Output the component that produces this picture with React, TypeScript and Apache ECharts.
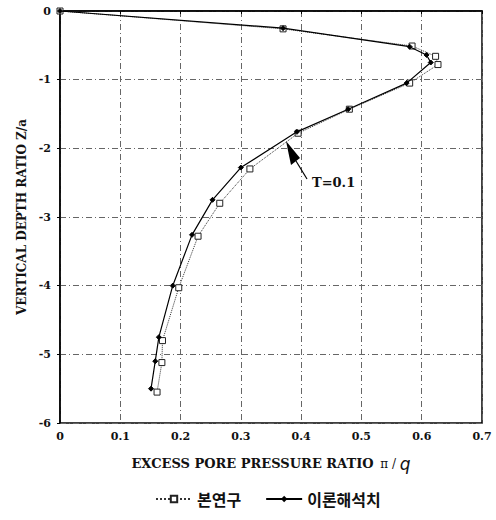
import React, { useEffect, useRef } from "react";
import * as echarts from "echarts";

// 이론해석치 (theoretical solution): [pore pressure ratio, depth ratio]
const theoryX = [0, 0.37, 0.58, 0.608, 0.615, 0.575, 0.478, 0.393, 0.30, 0.253, 0.219, 0.187, 0.164, 0.158, 0.151];
const theoryZ = [0, -0.25, -0.52, -0.64, -0.75, -1.05, -1.43, -1.76, -2.28, -2.75, -3.26, -4.0, -4.75, -5.1, -5.5];

// 본연구 (this study)
const studyX = [0, 0.37, 0.584, 0.623, 0.627, 0.58, 0.48, 0.395, 0.315, 0.265, 0.229, 0.197, 0.17, 0.169, 0.161];
const studyZ = [0, -0.26, -0.51, -0.66, -0.78, -1.05, -1.43, -1.78, -2.3, -2.8, -3.28, -4.03, -4.8, -5.12, -5.55];

const seriesNames = ["본연구", "이론해석치"];
const xTicks = { min: 0, max: 0.7, interval: 0.1 };
const yTicks = { min: -6, max: 0, interval: 1 };

const serif = "'DejaVu Serif', 'Liberation Serif', serif";

export default function App() {
  const ref = useRef<HTMLDivElement>(null);
  useEffect(() => {
    if (!ref.current) return;
    const chart = echarts.init(ref.current, undefined, { renderer: "svg" });
    const study = studyX.map((x, i) => [x, studyZ[i]]);
    const theory = theoryX.map((x, i) => [x, theoryZ[i]]);
    const gridLine = { show: true, lineStyle: { color: "#666", type: [6, 3, 1, 3], width: 1 } };
    chart.setOption({
      animation: false,
      backgroundColor: "#fff",
      grid: { left: 60, right: 14, top: 11, bottom: 97, show: true, borderColor: "#000", borderWidth: 1.5 },
      xAxis: {
        type: "value",
        min: xTicks.min,
        max: xTicks.max,
        interval: xTicks.interval,
        axisLine: { show: true, lineStyle: { color: "#000", width: 1.5 } },
        axisTick: { show: true, length: 3, lineStyle: { color: "#000" } },
        splitLine: gridLine,
        axisLabel: {
          color: "#111",
          fontFamily: serif,
          fontWeight: "bold",
          fontSize: 11,
          margin: 8,
          formatter: (v: number) => (v === 0 ? "0" : v.toFixed(1)),
        },
        name: "{a|EXCESS PORE PRESSURE RATIO}  {b|π / }{c|q}",
        nameLocation: "middle",
        nameGap: 32,
        nameTextStyle: {
          rich: {
            a: { fontFamily: serif, fontWeight: "bold", fontSize: 13, color: "#111" },
            b: { fontFamily: serif, fontSize: 12, color: "#111" },
            c: { fontFamily: "'DejaVu Sans', sans-serif", fontStyle: "italic", fontSize: 17, color: "#111" },
          },
        },
      },
      yAxis: {
        type: "value",
        min: yTicks.min,
        max: yTicks.max,
        interval: yTicks.interval,
        axisLine: { show: true, lineStyle: { color: "#000", width: 1.5 } },
        axisTick: { show: true, length: 3, lineStyle: { color: "#000" } },
        splitLine: gridLine,
        axisLabel: {
          color: "#111",
          fontFamily: serif,
          fontWeight: "bold",
          fontSize: 11,
          margin: 9,
        },
        name: "VERTICAL DEPTH RATIO Z/a",
        nameLocation: "middle",
        nameRotate: 90,
        nameGap: 32,
        nameTextStyle: { fontFamily: serif, fontWeight: "bold", fontSize: 12, color: "#111" },
      },
      legend: {
        bottom: 8,
        left: 150,
        itemWidth: 36,
        itemHeight: 8,
        itemGap: 24,
        textStyle: { fontFamily: "'Noto Sans CJK KR', sans-serif", fontWeight: "bold", fontSize: 16, color: "#111" },
        data: seriesNames,
      },
      series: [
        {
          name: seriesNames[0],
          type: "line",
          data: study,
          symbol: "rect",
          symbolSize: 6,
          itemStyle: { color: "#fff", borderColor: "#222", borderWidth: 1 },
          lineStyle: { color: "#333", width: 1, type: "dotted" },
          z: 3,
        },
        {
          name: seriesNames[1],
          type: "line",
          data: theory,
          symbol: "diamond",
          symbolSize: 5,
          itemStyle: { color: "#000", borderColor: "#000" },
          lineStyle: { color: "#000", width: 1.2, type: "solid" },
          z: 4,
        },
      ],
      graphic: [
        {
          type: "polygon",
          shape: { points: [[286, 141], [291, 165], [300, 158]] },
          style: { fill: "#000" },
          z: 10,
        },
        {
          type: "line",
          shape: { x1: 296, y1: 161, x2: 307, y2: 179 },
          style: { stroke: "#000", lineWidth: 1.2 },
          z: 10,
        },
        {
          type: "text",
          x: 312,
          y: 176,
          style: { text: "T=0.1", font: "bold 13px 'DejaVu Serif', serif", fill: "#111" },
          z: 10,
        },
      ],
    });
    return () => chart.dispose();
  }, []);
  return <div ref={ref} style={{ width: 496, height: 520, position: "absolute", left: 0, top: 0 }} />;
}
